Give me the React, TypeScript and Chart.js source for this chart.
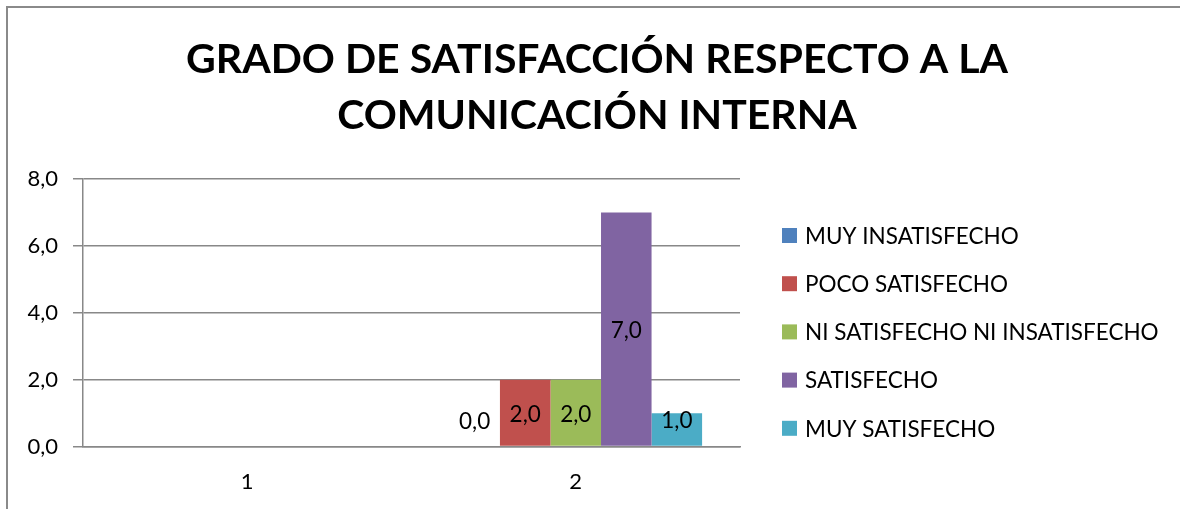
import React, { useEffect, useRef } from "react";
import { Chart, registerables } from "chart.js";

Chart.register(...registerables);

const categories: string[] = ["1", "2"];
const seriesNames: string[] = [
  "MUY INSATISFECHO",
  "POCO SATISFECHO",
  "NI SATISFECHO NI INSATISFECHO",
  "SATISFECHO",
  "MUY SATISFECHO",
];
const muyInsatisfecho: (number | null)[] = [null, 0];
const pocoSatisfecho: (number | null)[] = [null, 2];
const niSatisfecho: (number | null)[] = [null, 2];
const satisfecho: (number | null)[] = [null, 7];
const muySatisfecho: (number | null)[] = [null, 1];
const seriesColors: string[] = ["#4F81BD", "#C0504D", "#9BBB59", "#8064A2", "#4BACC6"];
const titleLines: string[] = ["GRADO DE SATISFACCIÓN RESPECTO A LA", "COMUNICACIÓN INTERNA"];
const yMin = 0;
const yMax = 8;
const yStep = 2;

const FONT = "Lato";
const fmt = (v: number) => v.toFixed(1).replace(".", ",");

const dataLabelPlugin = {
  id: "dataLabels",
  afterDatasetsDraw(chart: any) {
    const { ctx } = chart;
    ctx.save();
    ctx.font = `22.5px ${FONT}`;
    ctx.fillStyle = "#000";
    ctx.textAlign = "center";
    ctx.textBaseline = "middle";
    chart.data.datasets.forEach((ds: any, di: number) => {
      const meta = chart.getDatasetMeta(di);
      meta.data.forEach((el: any, i: number) => {
        const v = ds.data[i];
        if (v === null || v === undefined) return;
        const center = (el.y + el.base) / 2 + 2;
        const y = Math.min(center, el.base - 25);
        ctx.fillText(fmt(v), el.x, y);
      });
    });
    ctx.restore();
  },
};

const legendPlugin = {
  id: "customLegend",
  afterDraw(chart: any) {
    const { ctx, chartArea } = chart;
    ctx.save();
    ctx.font = `22.5px ${FONT}`;
    ctx.textAlign = "left";
    ctx.textBaseline = "middle";
    const x = chartArea.right + 42;
    chart.data.datasets.forEach((ds: any, i: number) => {
      const y = chartArea.top + 56.5 + i * 48.2;
      ctx.fillStyle = ds.backgroundColor;
      ctx.fillRect(x, y - 7.5, 15, 15);
      ctx.fillStyle = "#000";
      ctx.fillText(ds.label, x + 23, y + 1);
    });
    ctx.restore();
  },
};

export default function App() {
  const ref = useRef<HTMLCanvasElement>(null);
  useEffect(() => {
    if (!ref.current) return;
    const values = [muyInsatisfecho, pocoSatisfecho, niSatisfecho, satisfecho, muySatisfecho];
    const chart = new Chart(ref.current, {
      type: "bar",
      data: {
        labels: categories,
        datasets: seriesNames.map((name, i) => ({
          label: name,
          data: values[i],
          backgroundColor: seriesColors[i],
          borderWidth: 0,
          categoryPercentage: 5 / 6.5,
          barPercentage: 1,
        })),
      },
      options: {
        responsive: false,
        animation: false,
        layout: { padding: { left: 14, right: 0, top: 0, bottom: 0 } },
        plugins: {
          legend: { display: false },
          tooltip: { enabled: false },
          title: {
            display: true,
            text: titleLines,
            color: "#000",
            font: { family: FONT, weight: "bold", size: 41, lineHeight: 56 / 41 },
            padding: { top: 32, bottom: 35 },
          },
        },
        scales: {
          x: {
            grid: { display: false, drawTicks: false },
            border: { display: true, color: "#888", width: 1.5 },
            ticks: { color: "#000", font: { family: FONT, size: 22 }, padding: 22 },
          },
          y: {
            min: yMin,
            max: yMax,
            afterFit: (scale: any) => {
              scale.width = 69;
            },
            ticks: {
              stepSize: yStep,
              color: "#000",
              font: { family: FONT, size: 22 },
              padding: 15,
              callback: (v: any) => fmt(Number(v)),
            },
            grid: { color: "#888", lineWidth: 1.5, drawTicks: true, tickLength: 10 },
            border: { display: true, color: "#888", width: 1.5 },
          },
          legendSpace: {
            type: "linear",
            position: "right",
            display: true,
            afterFit: (scale: any) => {
              scale.width = 440;
            },
            ticks: { display: false },
            grid: { display: false },
            border: { display: false },
          },
        },
      },
      plugins: [dataLabelPlugin, legendPlugin],
    });
    return () => chart.destroy();
  }, []);
  return (
    <div style={{ position: "absolute", left: 0, top: 0, width: 1180, height: 509, background: "#fff", overflow: "hidden" }}>
      <div
        style={{
          position: "absolute",
          left: 6,
          top: 6,
          width: 1200,
          height: 600,
          borderTop: "2px solid #8a8a8a",
          borderLeft: "2px solid #8a8a8a",
        }}
      />
      <canvas ref={ref} width={1180} height={517} style={{ position: "absolute", left: 0, top: 0, display: "block" }} />
    </div>
  );
}
